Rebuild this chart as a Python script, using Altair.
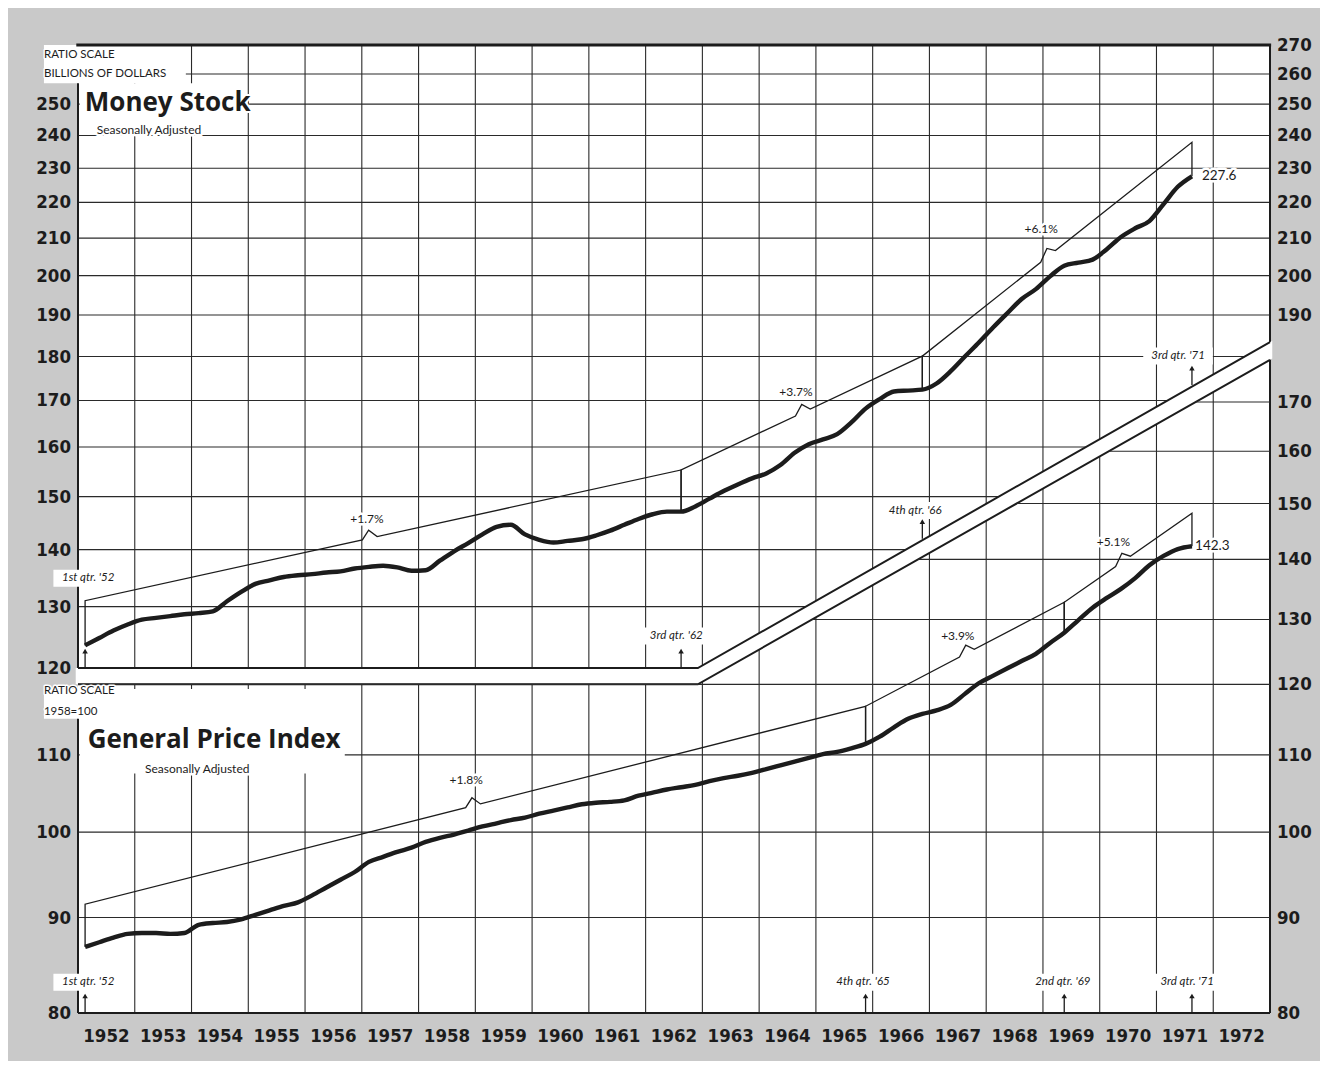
import math
import altair as alt
import pandas as pd

# ------------------------------------------------------------------ layout
W, H = 1192, 968
T0, T1 = 1952.0, 1973.0
YEAR_PX = W / (T1 - T0)

MONEY_DOMAIN = [76.6, 270.0]
PRICE_DOMAIN = [80.0, 264.1]
PXLN_M = H / math.log(MONEY_DOMAIN[1] / MONEY_DOMAIN[0])
PXLN_P = H / math.log(PRICE_DOMAIN[1] / PRICE_DOMAIN[0])

# ------------------------------------------------------------------ data
quarter_t = [y + (q - 0.5) / 4 for y in range(1952, 1972) for q in range(1, 5)][:79]

money_stock = [
    123.6, 124.8, 126.0, 127.0,
    127.8, 128.1, 128.4, 128.7,
    128.9, 129.2, 130.9, 132.5,
    133.9, 134.5, 135.1, 135.4,
    135.6, 135.9, 136.1, 136.6,
    136.9, 137.1, 136.8, 136.2,
    136.3, 138.0, 139.7, 141.2,
    142.8, 144.2, 144.6, 142.8,
    141.8, 141.3, 141.6, 141.9,
    142.6, 143.5, 144.6, 145.7,
    146.6, 147.1, 147.1, 148.1,
    149.6, 151.1, 152.4, 153.6,
    154.6, 156.3, 158.8, 160.6,
    161.6, 162.7, 165.2, 168.2,
    170.3, 172.0, 172.2, 172.4,
    173.8, 176.6, 180.0, 183.4,
    187.0, 190.5, 194.0, 196.5,
    199.8, 202.6, 203.4, 204.2,
    207.0, 210.3, 212.7, 214.7,
    219.5, 224.5, 227.6,
]
price_index = [
    86.8, 87.3, 87.8, 88.2,
    88.3, 88.3, 88.2, 88.3,
    89.2, 89.4, 89.5, 89.8,
    90.3, 90.8, 91.3, 91.7,
    92.5, 93.4, 94.3, 95.2,
    96.4, 97.0, 97.6, 98.1,
    98.8, 99.3, 99.7, 100.2,
    100.7, 101.1, 101.5, 101.8,
    102.3, 102.7, 103.1, 103.5,
    103.7, 103.8, 104.0, 104.6,
    105.0, 105.4, 105.7, 106.0,
    106.5, 106.9, 107.2, 107.6,
    108.1, 108.6, 109.1, 109.6,
    110.1, 110.4, 110.9, 111.5,
    112.5, 113.8, 115.0, 115.7,
    116.2, 117.0, 118.6, 120.2,
    121.3, 122.4, 123.5, 124.6,
    126.3, 127.9, 129.9, 131.9,
    133.5, 135.0, 136.8, 139.0,
    140.6, 141.8, 142.3,
]

# trend segments (start/end quarter, start/end height of the drawn trend line)
money_trend_t0 = [1952.125, 1962.625, 1966.875]
money_trend_t1 = [1962.625, 1966.875, 1971.625]
money_trend_v0 = [131.0, 155.3, 180.1]
money_trend_v1 = [155.3, 180.1, 237.9]
money_brace_t = [1957.14, 1964.77, 1969.09]
money_rate_labels = ["+1.7%", "+3.7%", "+6.1%"]
money_rate_label_t = [1957.09, 1964.65, 1968.97]
money_rate_label_v = [145.7, 171.8, 212.6]

price_trend_t0 = [1952.125, 1965.875, 1969.375]
price_trend_t1 = [1965.875, 1969.375, 1971.625]
price_trend_v0 = [91.5, 116.8, 132.8]
price_trend_v1 = [116.8, 132.8, 148.2]
price_brace_t = [1958.96, 1967.66, 1970.41]
price_rate_labels = ["+1.8%", "+3.9%", "+5.1%"]
price_rate_label_t = [1958.84, 1967.50, 1970.24]
price_rate_label_v = [106.6, 127.3, 143.1]

money_marker_labels = ["1st qtr. '52", "3rd qtr. '62", "4th qtr. '66", "3rd qtr. '71"]
money_marker_t = [1952.125, 1962.625, 1966.875, 1971.625]
money_marker_label_t = [1952.18, 1962.54, 1966.75, 1971.38]
money_marker_label_v = [134.9, 125.1, 147.3, 180.1]

price_marker_labels = ["1st qtr. '52", "4th qtr. '65", "2nd qtr. '69", "3rd qtr. '71"]
price_marker_t = [1952.125, 1965.875, 1969.375, 1971.625]
price_marker_label_t = [1952.18, 1965.83, 1969.35, 1971.54]
price_marker_label_v = [83.1, 83.1, 83.1, 83.1]

money_left_ticks = list(range(120, 251, 10))
money_right_ticks = list(range(190, 271, 10))
price_left_ticks = [80, 90, 100, 110]
price_right_ticks = list(range(80, 171, 10))
year_labels = list(range(1952, 1973))
money_grid_values = list(range(130, 270, 10))
price_grid_values = list(range(90, 171, 10))

# the diagonal break between the two panels
BAND_KINK = 1962.92
BAND_END_MONEY = 183.4
BAND_END_PRICE = 179.1

# ------------------------------------------------------------------ helpers
INK = "#1c1c1c"
GRID = "#2a2a2a"
NUM_FONT = "'Liberation Sans Narrow', 'DejaVu Sans Condensed', 'Liberation Sans', sans-serif"
NUM_SIZE = 18.5
LAB_FONT = "Lato, 'Open Sans', sans-serif"
TITLE_FONT = "'Open Sans', Lato, sans-serif"

XS = alt.Scale(domain=[T0, T1], nice=False, zero=False)
MS = alt.Scale(type="log", domain=MONEY_DOMAIN, nice=False)
PS = alt.Scale(type="log", domain=PRICE_DOMAIN, nice=False)


def X(f):
    return alt.X(f, type="quantitative", scale=XS, axis=None)


def MY(f):
    return alt.Y(f, type="quantitative", scale=MS, axis=None)


def PY(f):
    return alt.Y(f, type="quantitative", scale=PS, axis=None)


def frac(v, dom):
    return math.log(v / dom[0]) / math.log(dom[1] / dom[0])


def p2m(p):
    return MONEY_DOMAIN[0] * (MONEY_DOMAIN[1] / MONEY_DOMAIN[0]) ** frac(p, PRICE_DOMAIN)


def band_upper_money(t):
    if t <= BAND_KINK:
        return 120.0
    return 120.0 * (BAND_END_MONEY / 120.0) ** ((t - BAND_KINK) / (T1 - BAND_KINK))


def band_lower_price(t):
    if t <= BAND_KINK:
        return 120.0
    return 120.0 * (BAND_END_PRICE / 120.0) ** ((t - BAND_KINK) / (T1 - BAND_KINK))


def trend_rows(t0s, t1s, v0s, v1s, braces, series, pxln):
    lookup = dict(zip(quarter_t, series))
    rows = []
    for i in range(len(t0s)):
        t0, t1, v0, v1, tb = t0s[i], t1s[i], v0s[i], v1s[i], braces[i]
        g = math.log(v1 / v0) / (t1 - t0)

        def line(t):
            return v0 * math.exp(g * (t - t0))

        pts = [
            (t0, lookup[t0]), (t0, v0),
            (tb - 0.13, line(tb - 0.13)),
            (tb - 0.02, line(tb) * math.exp(8 / pxln)),
            (tb + 0.13, line(tb + 0.13)),
            (t1, v1), (t1, lookup[t1]),
        ]
        for k, (t, v) in enumerate(pts):
            rows.append({"seg": i, "ord": k, "t": t, "v": v})
    return pd.DataFrame(rows)


def box_rows(labels, ts, vs, pxln, char_px=5.3, half_h=8.5):
    rows = []
    for lab, t, v in zip(labels, ts, vs):
        w = (char_px * len(lab) + 6) / YEAR_PX
        rows.append({"t0": t - w / 2, "t1": t + w / 2,
                     "v0": v * math.exp(-half_h / pxln), "v1": v * math.exp(half_h / pxln)})
    return pd.DataFrame(rows)


def text_pair(df, yfn, halo=5, color=INK, **kw):
    enc = dict(x=X("t"), y=yfn("v"), text=alt.Text("label:N"))
    base = alt.Chart(df)
    return [
        base.mark_text(stroke="white", strokeWidth=halo, strokeJoin="round", fill="white", **kw).encode(**enc),
        base.mark_text(color=color, **kw).encode(**enc),
    ]


def rect_layer(df, yfn):
    return alt.Chart(df).mark_rect(color="white").encode(
        x=X("t0"), x2="t1", y=yfn("v0"), y2="v1")


# ------------------------------------------------------------------ money panel
money_df = pd.DataFrame({"t": quarter_t, "v": money_stock})
price_df = pd.DataFrame({"t": quarter_t, "v": price_index})

m_layers = []
m_layers.append(alt.Chart(pd.DataFrame({"t": list(range(1953, 1973))}))
                .mark_rule(color=GRID, strokeWidth=1.1).encode(x=X("t")))

mgrid = []
for m in money_grid_values:
    if m < BAND_END_MONEY:
        te = BAND_KINK + (T1 - BAND_KINK) * math.log(m / 120) / math.log(BAND_END_MONEY / 120)
    else:
        te = T1
    mgrid.append({"t0": T0, "t1": te, "v": m})
m_layers.append(alt.Chart(pd.DataFrame(mgrid)).mark_rule(color=GRID, strokeWidth=1.1)
                .encode(x=X("t0"), x2="t1", y=MY("v")))

# white title boxes
m_layers.append(rect_layer(pd.DataFrame([
    {"t0": 1951.40, "t1": 1953.90, "v0": 256.9, "v1": 270.0},
    {"t0": 1952.03, "t1": 1954.77, "v0": 240.9, "v1": 256.9},
]), MY))

# frame
m_layers.append(alt.Chart(pd.DataFrame([{"t0": 1951.97, "t1": T1 + 0.02, "v": MONEY_DOMAIN[1]}]))
                .mark_rule(color=INK, strokeWidth=3).encode(x=X("t0"), x2="t1", y=MY("v")))
m_layers.append(alt.Chart(pd.DataFrame({"t": [T1]})).mark_rule(color=INK, strokeWidth=2).encode(x=X("t")))
m_layers.append(alt.Chart(pd.DataFrame([{"t0": T0, "t1": T1}]))
                .mark_rule(color=INK, strokeWidth=2).encode(x=X("t0"), x2="t1", y=alt.value(H)))
m_layers.append(alt.Chart(pd.DataFrame([{"t": T0, "v0": 120.0, "v1": 256.9}]))
                .mark_rule(color=INK, strokeWidth=2).encode(x=X("t"), y=MY("v0"), y2="v1"))

# band between panels
band_t = [1951.96, BAND_KINK, T1 + 0.04]
band_df = pd.DataFrame({
    "t": band_t,
    "top": [band_upper_money(t) for t in band_t],
    "bot": [p2m(band_lower_price(t)) for t in band_t],
})
m_layers.append(alt.Chart(band_df).mark_area(color="white", opacity=1).encode(
    x=X("t"), y=MY("top"), y2="bot"))
band_lines = []
for t in [T0, BAND_KINK, T1]:
    band_lines.append({"id": "upper", "t": t, "v": band_upper_money(t)})
    band_lines.append({"id": "lower", "t": t, "v": p2m(band_lower_price(t))})
m_layers.append(alt.Chart(pd.DataFrame(band_lines)).mark_line(color=INK, strokeWidth=2).encode(
    x=X("t"), y=MY("v"), detail="id:N"))

# series + trend
m_layers.append(alt.Chart(money_df).mark_line(color=INK, strokeWidth=4.4, interpolate="monotone")
                .encode(x=X("t"), y=MY("v")))
m_layers.append(alt.Chart(trend_rows(money_trend_t0, money_trend_t1, money_trend_v0, money_trend_v1,
                                     money_brace_t, money_stock, PXLN_M))
                .mark_line(color=INK, strokeWidth=1.3).encode(
                    x=X("t"), y=MY("v"), detail="seg:N", order="ord:Q"))

# arrows
m_arrows = []
for t in money_marker_t:
    base = 120.0 if t < BAND_KINK else band_upper_money(t) * math.exp(1.5 / PXLN_M)
    m_arrows.append({"t": t, "base": base, "head": base * math.exp(17 / PXLN_M)})
m_arrow_df = pd.DataFrame(m_arrows)
m_layers.append(alt.Chart(m_arrow_df).mark_rule(color=INK, strokeWidth=1.3).encode(
    x=X("t"), y=MY("base"), y2="head"))
m_layers.append(alt.Chart(m_arrow_df).mark_point(shape="triangle-up", filled=True, color=INK, size=30, opacity=1)
                .encode(x=X("t"), y=MY("head")))

# texts
m_layers.append(rect_layer(box_rows(money_marker_labels, money_marker_label_t, money_marker_label_v, PXLN_M), MY))
m_layers += text_pair(pd.DataFrame({"t": money_marker_label_t, "v": money_marker_label_v,
                                    "label": money_marker_labels}), MY,
                      font=LAB_FONT, fontSize=11.5, fontStyle="italic", align="center", baseline="middle")
m_layers += text_pair(pd.DataFrame({"t": money_rate_label_t, "v": money_rate_label_v,
                                    "label": money_rate_labels}), MY,
                      font=LAB_FONT, fontSize=12, align="center", baseline="middle")
m_layers += text_pair(pd.DataFrame({"t": [1971.80], "v": [227.6], "label": ["227.6"]}), MY,
                      font=LAB_FONT, fontSize=13.5, align="left", baseline="middle")
m_layers += text_pair(pd.DataFrame({"t": [1951.40, 1951.40], "v": [266.5, 260.0],
                                    "label": ["RATIO SCALE", "BILLIONS OF DOLLARS"]}), MY, halo=3,
                      font=LAB_FONT, fontSize=11.5, align="left", baseline="middle")
m_layers += text_pair(pd.DataFrame({"t": [1952.12], "v": [250.5], "label": ["Money Stock"]}), MY, halo=4,
                      font=TITLE_FONT, fontSize=26, fontWeight="bold", align="left", baseline="middle")
m_layers += text_pair(pd.DataFrame({"t": [1952.33], "v": [241.8], "label": ["Seasonally Adjusted"]}), MY, halo=5,
                      font=LAB_FONT, fontSize=12, align="left", baseline="middle")

m_layers.append(alt.Chart(pd.DataFrame({"v": money_left_ticks})).mark_text(
    font=NUM_FONT, fontSize=NUM_SIZE, fontWeight="bold", color=INK, align="right", baseline="middle").encode(
    x=alt.value(-7), y=MY("v"), text=alt.Text("v:Q")))
m_layers.append(alt.Chart(pd.DataFrame({"v": money_right_ticks})).mark_text(
    font=NUM_FONT, fontSize=NUM_SIZE, fontWeight="bold", color=INK, align="left", baseline="middle").encode(
    x=alt.value(W + 7), y=MY("v"), text=alt.Text("v:Q")))

money_group = alt.layer(*m_layers)

# ------------------------------------------------------------------ price panel
p_layers = []
pgrid = []
for p in price_grid_values:
    if p <= 120:
        ts = T0
    else:
        ts = BAND_KINK + (T1 - BAND_KINK) * math.log(p / 120) / math.log(BAND_END_PRICE / 120)
    if ts < T1:
        pgrid.append({"t0": ts, "t1": T1, "v": p})
p_layers.append(alt.Chart(pd.DataFrame(pgrid)).mark_rule(color=GRID, strokeWidth=1.1)
                .encode(x=X("t0"), x2="t1", y=PY("v")))

p_layers.append(rect_layer(pd.DataFrame([
    {"t0": 1951.40, "t1": 1952.03, "v0": 115.0, "v1": 119.3},
    {"t0": 1952.03, "t1": 1956.70, "v0": 107.5, "v1": 119.3},
]), PY))
p_layers.append(alt.Chart(pd.DataFrame([{"t": T0, "v0": PRICE_DOMAIN[0], "v1": 115.0}]))
                .mark_rule(color=INK, strokeWidth=2).encode(x=X("t"), y=PY("v0"), y2="v1"))

p_layers.append(alt.Chart(price_df).mark_line(color=INK, strokeWidth=4.4, interpolate="monotone")
                .encode(x=X("t"), y=PY("v")))
p_layers.append(alt.Chart(trend_rows(price_trend_t0, price_trend_t1, price_trend_v0, price_trend_v1,
                                     price_brace_t, price_index, PXLN_P))
                .mark_line(color=INK, strokeWidth=1.3).encode(
                    x=X("t"), y=PY("v"), detail="seg:N", order="ord:Q"))

p_arrow_df = pd.DataFrame([{"t": t, "base": PRICE_DOMAIN[0], "head": PRICE_DOMAIN[0] * math.exp(17 / PXLN_P)}
                           for t in price_marker_t])
p_layers.append(alt.Chart(p_arrow_df).mark_rule(color=INK, strokeWidth=1.3).encode(
    x=X("t"), y=PY("base"), y2="head"))
p_layers.append(alt.Chart(p_arrow_df).mark_point(shape="triangle-up", filled=True, color=INK, size=30, opacity=1)
                .encode(x=X("t"), y=PY("head")))

p_layers.append(rect_layer(box_rows(price_marker_labels, price_marker_label_t, price_marker_label_v, PXLN_P), PY))
p_layers += text_pair(pd.DataFrame({"t": price_marker_label_t, "v": price_marker_label_v,
                                    "label": price_marker_labels}), PY,
                      font=LAB_FONT, fontSize=11.5, fontStyle="italic", align="center", baseline="middle")
p_layers += text_pair(pd.DataFrame({"t": price_rate_label_t, "v": price_rate_label_v,
                                    "label": price_rate_labels}), PY,
                      font=LAB_FONT, fontSize=12, align="center", baseline="middle")
p_layers += text_pair(pd.DataFrame({"t": [1971.68], "v": [142.3], "label": ["142.3"]}), PY,
                      font=LAB_FONT, fontSize=13.5, align="left", baseline="middle")
p_layers += text_pair(pd.DataFrame({"t": [1951.40, 1951.40], "v": [119.0, 116.0],
                                    "label": ["RATIO SCALE", "1958=100"]}), PY, halo=3,
                      font=LAB_FONT, fontSize=11.5, align="left", baseline="middle")
p_layers += text_pair(pd.DataFrame({"t": [1952.17], "v": [112.0], "label": ["General Price Index"]}), PY, halo=4,
                      font=TITLE_FONT, fontSize=26, fontWeight="bold", align="left", baseline="middle")
p_layers += text_pair(pd.DataFrame({"t": [1953.18], "v": [108.1], "label": ["Seasonally Adjusted"]}), PY, halo=5,
                      font=LAB_FONT, fontSize=12, align="left", baseline="middle")

p_layers.append(alt.Chart(pd.DataFrame({"v": price_left_ticks})).mark_text(
    font=NUM_FONT, fontSize=NUM_SIZE, fontWeight="bold", color=INK, align="right", baseline="middle").encode(
    x=alt.value(-7), y=PY("v"), text=alt.Text("v:Q")))
p_layers.append(alt.Chart(pd.DataFrame({"v": price_right_ticks})).mark_text(
    font=NUM_FONT, fontSize=NUM_SIZE, fontWeight="bold", color=INK, align="left", baseline="middle").encode(
    x=alt.value(W + 7), y=PY("v"), text=alt.Text("v:Q")))
p_layers.append(alt.Chart(pd.DataFrame({"t": [y + 0.5 for y in year_labels], "label": [str(y) for y in year_labels]}))
                .mark_text(font=NUM_FONT, fontSize=NUM_SIZE, fontWeight="bold", color=INK, align="center", baseline="middle")
                .encode(x=X("t"), y=alt.value(H + 23), text=alt.Text("label:N")))

price_group = alt.layer(*p_layers)

chart = (
    alt.layer(money_group, price_group)
    .resolve_scale(y="independent")
    .properties(width=W, height=H,
                padding={"left": 70, "top": 37, "right": 50, "bottom": 48},
                autosize=alt.AutoSizeParams(type="none"))
    .configure(background="#c9c9c9")
    .configure_view(fill="white", stroke=None)
)

chart.save("out.html", embed_options={"renderer": "svg", "actions": False})
